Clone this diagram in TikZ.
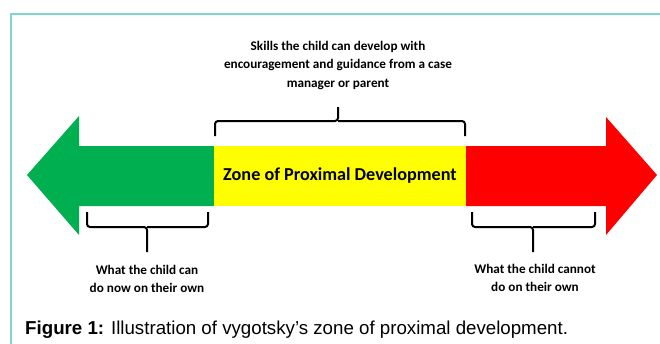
\documentclass[tikz,border=0pt]{standalone}
\usepackage{tikz}
\usepackage{xcolor}
\usepackage{fontspec}
\setmainfont{Carlito}
\newfontfamily\capfont{Liberation Sans}
\definecolor{zpdgreen}{RGB}{0,176,80}
\definecolor{zpdyellow}{RGB}{255,255,0}
\definecolor{zpdred}{RGB}{255,0,0}
\definecolor{frameteal}{RGB}{128,214,204}

\begin{document}
\begin{tikzpicture}[x=1pt,y=-1pt]
        \tikzstyle{every node}+=[inner sep=0pt]
        \tikzstyle{brace}=[black, line width=2pt, rounded corners=3pt]
        \tikzstyle{label}=[align=center, font=\fontsize{13.2}{18.5}\selectfont\bfseries]
        \useasboundingbox (0,0) rectangle (660,343);
        \draw [frameteal, line width=1.5pt] (11,345) -- (11,14) -- (662,14);
        \fill [zpdgreen] (27,175) -- (79,116) -- (79,146) -- (214,146) -- (214,206) -- (79,206) -- (79,235) -- cycle;
        \fill [zpdred] (466,146) -- (606,146) -- (606,117) -- (657,175) -- (606,235) -- (606,206) -- (466,206) -- cycle;
        \node [fill=zpdyellow, minimum width=252, minimum height=60, font=\fontsize{18.2}{20}\selectfont\bfseries] (zone) at (340,176) {Zone of Proximal Development};
        \node [label] (skills) at (338,65) {Skills the child can develop with\\encouragement and guidance from a case\\manager or parent};
        \node [label] (cando) at (147,279) {What the child can\\do now on their own};
        \node [label] (cannot) at (535,278) {What the child cannot\\do on their own};
        \coordinate (top) at (338,107);
        \coordinate (lefttip) at (147,252);
        \coordinate (righttip) at (533,252);
        \draw [brace] (215,136) |- (338,121) -- (top);
        \draw [brace] (465,136) |- (338,121);
        \draw [brace] (87,212) |- (147,227) -- (lefttip);
        \draw [brace] (208,212) |- (147,227);
        \draw [brace] (472,212) |- (533,227) -- (righttip);
        \draw [brace] (595,212) |- (533,227);
        \node [anchor=west, font=\capfont\fontsize{18.7}{20}\selectfont] (caption) at (25,330) {\textbf{Figure 1:} Illustration of vygotsky’s zone of proximal development.};
\end{tikzpicture}
\end{document}
